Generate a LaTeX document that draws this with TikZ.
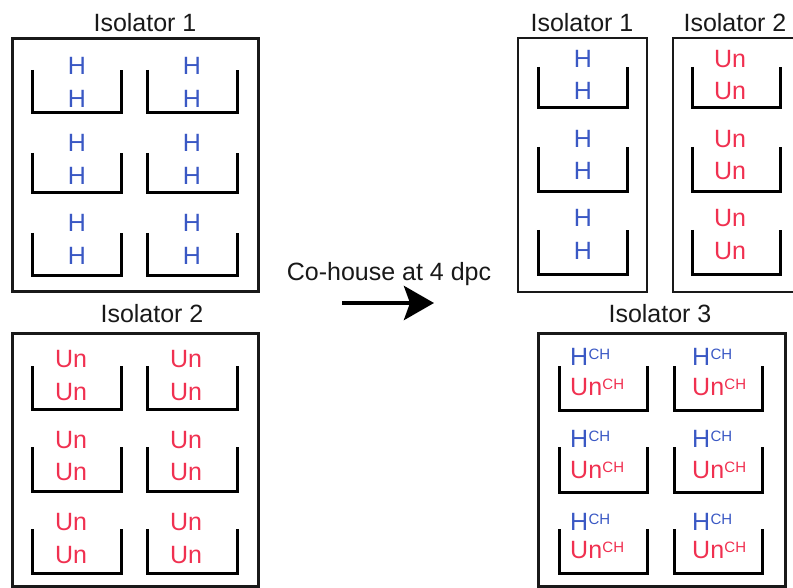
\documentclass[tikz,border=0pt]{standalone}
\usepackage{fontspec}
\setmainfont{Liberation Sans}
\usetikzlibrary{arrows.meta}
\definecolor{hblue}{RGB}{58,88,196}
\definecolor{unred}{RGB}{240,48,80}
\definecolor{ink}{RGB}{25,25,25}
\tikzset{
  lab/.style={font=\fontsize{25}{30}\selectfont, anchor=base, inner sep=0pt},
  hlab/.style={lab, text=hblue},
  ulab/.style={lab, text=unred},
  ttl/.style={lab, text=ink},
  leftlab/.style={anchor=base west},
  cage/.style={line width=3pt, line join=miter},
  isobox/.style={line width=3pt, draw=ink},
  thinbox/.style={line width=2pt, draw=ink},
  moveto/.style={line width=4.5pt, -{Stealth[length=30pt,width=34pt,inset=6pt]}},
}
% superscript tag for co-housed animals
\newcommand\chtag{\kern0.3pt\raisebox{6pt}{\fontsize{15}{15}\selectfont CH}}

\begin{document}
\begin{tikzpicture}[x=1pt,y=-1pt]
\useasboundingbox (0,0) rectangle (793,588);
\clip (0,0) rectangle (793,588);

% ---------- before: isolator 1 (H animals) ----------
\node[ttl] (b1t) at (145,32) {Isolator 1};
\draw[isobox] (12,39) rectangle (258,292);
\foreach \t/\b/\ya/\yb [count=\r] in {70/113/75/108, 153/193/152/185, 233/276/232/265} {
  \foreach \xa/\xb/\xc [count=\c] in {32/121/77, 147/237/192} {
    \draw[cage] (\xa,\t) -- (\xa,\b) -- (\xb,\b) -- (\xb,\t);
    \node[hlab] (bh-\r-\c-a) at (\xc,\ya) {H};
    \node[hlab] (bh-\r-\c-b) at (\xc,\yb) {H};
  }
}

% ---------- before: isolator 2 (Un animals) ----------
\node[ttl] (b2t) at (152,323) {Isolator 2};
\draw[isobox] (12,333) rectangle (258,586);
\foreach \t/\b/\ya/\yb [count=\r] in {366/409/367/400, 447/491/448/480, 529/573/530/563} {
  \foreach \xa/\xb/\xc [count=\c] in {32/121/71, 147/237/186} {
    \draw[cage] (\xa,\t) -- (\xa,\b) -- (\xb,\b) -- (\xb,\t);
    \node[ulab] (bu-\r-\c-a) at (\xc,\ya) {Un};
    \node[ulab] (bu-\r-\c-b) at (\xc,\yb) {Un};
  }
}

% ---------- transition ----------
\node[ttl] (cohouse) at (389,281) {Co-house at 4 dpc};
\coordinate (arrs) at (342,303);
\coordinate (arre) at (434,303);
\draw[moveto] (arrs) -- (arre);

% ---------- after: isolator 1 ----------
\node[ttl] (a1t) at (582,32) {Isolator 1};
\draw[thinbox] (518,38) rectangle (647,292);
\foreach \t/\b/\ya/\yb [count=\r] in {67/108/68/100, 147/192/148/180, 230/275/227/260} {
  \draw[cage] (538,\t) -- (538,\b) -- (627,\b) -- (627,\t);
  \node[hlab] (ah-\r-a) at (583,\ya) {H};
  \node[hlab] (ah-\r-b) at (583,\yb) {H};
}

% ---------- after: isolator 2 ----------
\node[ttl] (a2t) at (735,32) {Isolator 2};
\draw[thinbox] (673,38) rectangle (810,292);
\foreach \t/\b/\ya/\yb [count=\r] in {67/108/68/100, 147/192/148/180, 230/275/227/260} {
  \draw[cage] (692,\t) -- (692,\b) -- (780,\b) -- (780,\t);
  \node[ulab] (au-\r-a) at (730,\ya) {Un};
  \node[ulab] (au-\r-b) at (730,\yb) {Un};
}

% ---------- after: isolator 3 (co-housed) ----------
\node[ttl] (a3t) at (660,323) {Isolator 3};
\draw[isobox] (538,333) rectangle (785,586);
\foreach \t/\b/\ya/\yb [count=\r] in {366/410/365/395, 447/492/447/478, 529/573/530/558} {
  \foreach \xa/\xb/\xs [count=\c] in {559/647/570, 674/762/692} {
    \draw[cage] (\xa,\t) -- (\xa,\b) -- (\xb,\b) -- (\xb,\t);
    \node[hlab, leftlab] (ch-\r-\c-a) at (\xs,\ya) {H\chtag};
    \node[ulab, leftlab] (ch-\r-\c-b) at (\xs,\yb) {Un\chtag};
  }
}
\end{tikzpicture}
\end{document}
